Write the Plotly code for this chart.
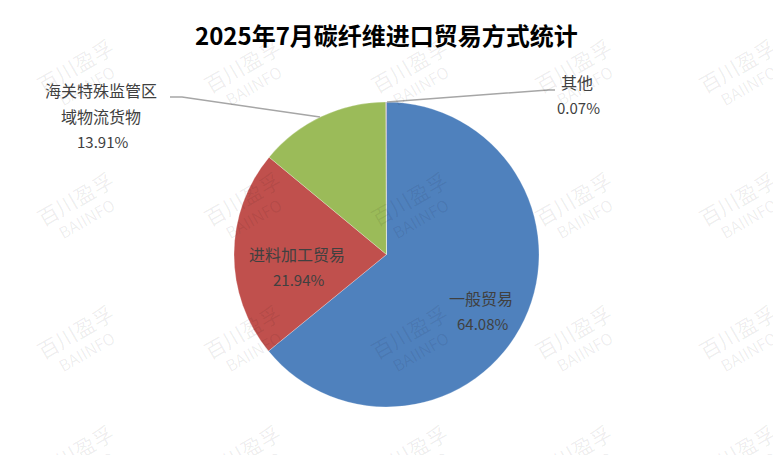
import plotly.graph_objects as go

# ---- data ----
categories = ["一般贸易", "进料加工贸易", "海关特殊监管区域物流货物", "其他"]
shares = [64.08, 21.94, 13.91, 0.07]
label_lines = [["一般贸易"], ["进料加工贸易"], ["海关特殊监管区", "域物流货物"], ["其他"]]
colors = ["#4F81BD", "#C0504D", "#9BBB59", "#8064A2"]
title_text = "2025年7月碳纤维进口贸易方式统计"

W, H = 773, 455


def px(x):
    return x / W


def py(y):
    return 1 - y / H


cx, cy, r = 386.5, 254.5, 152.5

fig = go.Figure(
    go.Pie(
        labels=categories,
        values=shares,
        sort=False,
        direction="clockwise",
        rotation=0,
        marker=dict(colors=colors, line=dict(color="rgba(255,255,255,0.5)", width=0.5)),
        textinfo="none",
        hoverinfo="label+percent",
        domain=dict(x=[px(cx - r), px(cx + r)], y=[py(cy + r), py(cy - r)]),
        showlegend=False,
    )
)

ann = []
# watermarks
wm_cols = [80, 247, 414, 578, 742]
wm_rows = [74, 207, 340, 460]
for yy in wm_rows:
    for xx in wm_cols:
        ann.append(dict(
            x=px(xx), y=py(yy), xref="paper", yref="paper",
            text="<span style='font-size:21px'>百川盈孚</span><br>BAIINFO",
            showarrow=False, textangle=-30,
            font=dict(family="Noto Sans CJK SC", size=16, color="rgba(0,0,0,0.07)"),
            xanchor="center", yanchor="middle",
        ))

lab_font = dict(family="Noto Sans CJK SC", size=16, color="#404040")
num_font = dict(family="Noto Sans CJK SC", size=15, color="#404040")

# pixel centre of the first label line; lines are 25.5 px apart
label_anchor = [(481, 298), (297, 254), (101, 90), (577, 82)]
line_gap = 25.5
for lines, val, (x0, y0) in zip(label_lines, shares, label_anchor):
    for i, t in enumerate(lines):
        ann.append(dict(x=px(x0), y=py(y0 + i * line_gap), xref="paper", yref="paper",
                        text=t, showarrow=False, font=lab_font,
                        xanchor="center", yanchor="middle"))
    ann.append(dict(x=px(x0 + 1), y=py(y0 + len(lines) * line_gap), xref="paper", yref="paper",
                    text=f"{val:.2f}%", showarrow=False, font=num_font,
                    xanchor="center", yanchor="middle"))

ann.append(dict(x=px(386), y=py(35), xref="paper", yref="paper", text="<b>" + title_text + "</b>",
                showarrow=False, font=dict(family="Noto Sans CJK SC", size=24, color="#000000"),
                xanchor="center", yanchor="middle"))


def path(points):
    s = ""
    for i, (x, y) in enumerate(points):
        s += ("M" if i == 0 else "L") + f" {px(x)} {py(y)} "
    return s


shapes = [
    dict(type="path", xref="paper", yref="paper",
         path=path([(170, 97), (182, 97), (320, 117)]),
         line=dict(color="#A6A6A6", width=1.5)),
    dict(type="path", xref="paper", yref="paper",
         path=path([(387, 102), (548, 90), (555, 90)]),
         line=dict(color="#A6A6A6", width=1.5)),
]

fig.update_layout(
    width=W, height=H,
    margin=dict(l=0, r=0, t=0, b=0),
    paper_bgcolor="white", plot_bgcolor="white",
    annotations=ann, shapes=shapes,
)

fig.write_html("out.html", config={"displayModeBar": False},
               post_script="document.body.style.margin='0';document.body.style.overflow='hidden';")
